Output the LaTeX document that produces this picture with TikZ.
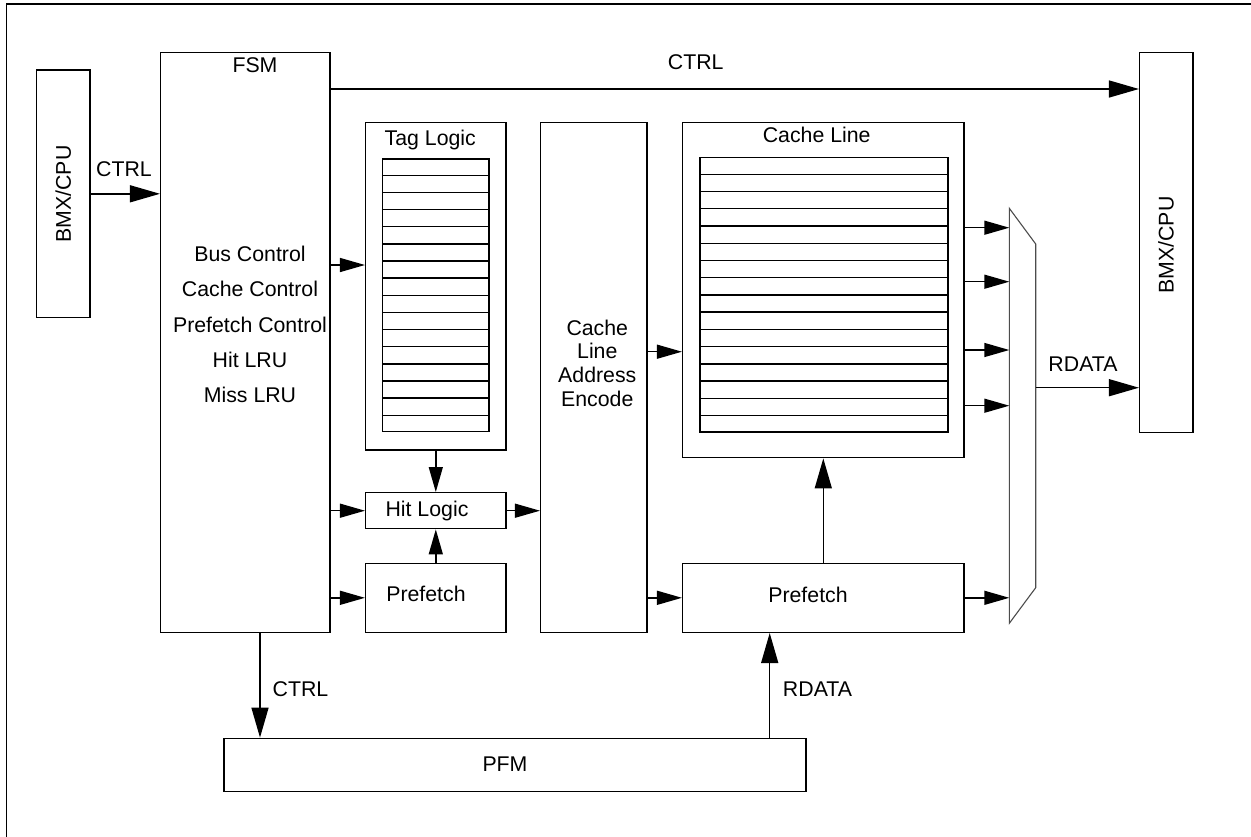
\documentclass[tikz,border=0pt]{standalone}
\usepackage{fontspec}
\setmainfont{Liberation Sans}
\usetikzlibrary{arrows.meta,calc}
\begin{document}
\begin{tikzpicture}[x=1pt,y=-1pt,
  box/.style={draw, line width=1.4pt, rectangle, inner sep=0pt},
  lbl/.style={font=\fontsize{21.3}{25}\selectfont, inner sep=0pt},
  bigarrow/.style={line width=1.4pt, -{Triangle[length=30pt,width=17pt]}},
  smlarrow/.style={line width=1.4pt, -{Triangle[length=25pt,width=14pt]}},
  rowline/.style={line width=1.4pt},
  muxline/.style={draw=black!70, line width=1.1pt, line join=miter},
]
\useasboundingbox (0,0) rectangle (1251,836);

% outer frame (only top and left edges visible)
\coordinate (frTR) at (1260,4);
\coordinate (frTL) at (6.7,4);
\coordinate (frBL) at (6.7,845);
\draw[line width=1.4pt] (frTR) -- (frTL) -- (frBL);

% blocks
\node[box, minimum width=53.3pt, minimum height=247.7pt] (bmxL) at (63.3,193.8) {};
\node[lbl, rotate=90] (bmxLt) at (63.3,194) {BMX/CPU};

\node[box, minimum width=169.3pt, minimum height=579.6pt] (fsm) at (245.3,342.5) {};
\node[lbl, anchor=base] (fsmt) at (255,72.7) {FSM};
\foreach \t [count=\i] in {Bus Control, Cache Control, Prefetch Control, Hit LRU, Miss LRU}
  \node[lbl, anchor=base] (fsml\i) at (250,{261.7+35.2*(\i-1)}) {\t};

\node[box, minimum width=140.3pt, minimum height=327.3pt] (tag) at (435.8,286.3) {};
\node[lbl, anchor=base] (tagt) at (430.3,145) {Tag Logic};
\node[box, minimum width=106.3pt, minimum height=272.7pt] (tagi) at (435.8,295.3) {};
\foreach \i in {1,...,15}
  \draw[rowline] ($(tagi.north west)!\i/16!(tagi.south west)$) -- ($(tagi.north east)!\i/16!(tagi.south east)$);

\node[box, minimum width=106.3pt, minimum height=509.6pt] (clae) at (593.8,377.5) {};
\foreach \t [count=\i] in {Cache, Line, Address, Encode}
  \node[lbl, anchor=base] (claet\i) at (597.3,{335+23.9*(\i-1)}) {\t};

\node[box, minimum width=281.3pt, minimum height=335pt] (cache) at (823.3,290.2) {};
\node[lbl, anchor=base] (cachet) at (816.7,142.7) {Cache Line};
\node[box, minimum width=248pt, minimum height=274.3pt] (cachei) at (824,294.9) {};
\foreach \i in {1,...,15}
  \draw[rowline] ($(cachei.north west)!\i/16!(cachei.south west)$) -- ($(cachei.north east)!\i/16!(cachei.south east)$);

\node[box, minimum width=140.3pt, minimum height=36pt] (hit) at (435.8,510.7) {};
\node[lbl, anchor=base] (hitt) at (427,516.7) {Hit Logic};

\node[box, minimum width=140.3pt, minimum height=69pt] (pfs) at (435.8,597.8) {};
\node[lbl, anchor=base] (pfst) at (426,601.7) {Prefetch};

\node[box, minimum width=281.3pt, minimum height=69pt] (pfb) at (823.3,597.8) {};
\node[lbl, anchor=base] (pfbt) at (808,602.7) {Prefetch};

\node[box, minimum width=582pt, minimum height=53pt] (pfm) at (515,764.8) {};
\node[lbl, anchor=base] (pfmt) at (505,771.7) {PFM};

\node[box, minimum width=53.3pt, minimum height=380pt] (bmxR) at (1166.3,242.7) {};
\node[lbl, rotate=90] (bmxRt) at (1166,245) {BMX/CPU};

% multiplexer
\coordinate (m1) at (1009.3,208.3);
\coordinate (m2) at (1035.7,244);
\coordinate (m3) at (1035.7,587.7);
\coordinate (m4) at (1009.3,623.3);
\draw[muxline] (m1) -- (m2) -- (m3) -- (m4) -- cycle;

% connectors
\draw[bigarrow] (bmxL.east) -- (fsm.west |- bmxL.east);
\node[lbl, anchor=base] (ctrl1) at (124,176.7) {CTRL};

\draw[bigarrow] (fsm.east |- 0,89) -- (bmxR.west |- 0,89);
\node[lbl, anchor=base] (ctrl2) at (695.7,69.3) {CTRL};

\draw[smlarrow] (fsm.east |- 0,265) -- (tag.west |- 0,265);
\draw[smlarrow] (fsm.east |- hit.west) -- (hit.west);
\draw[smlarrow] (fsm.east |- pfs.west) -- (pfs.west);
\draw[smlarrow] (tag.south) -- (hit.north);
\draw[smlarrow] (pfs.north) -- (hit.south);
\draw[smlarrow] (hit.east) -- (clae.west |- hit.east);
\draw[smlarrow] (clae.east |- 0,351.7) -- (cache.west |- 0,351.7);
\draw[smlarrow] (clae.east |- pfb.west) -- (pfb.west);
\draw[bigarrow] (pfb.north) -- (cache.south);

\draw[bigarrow] (fsm.south -| 260,0) -- (pfm.north -| 260,0);
\node[lbl, anchor=base] (ctrl3) at (300.5,696) {CTRL};

\draw[bigarrow] (pfm.north -| 769.7,0) -- (pfb.south -| 769.7,0);
\node[lbl, anchor=base] (rdata1) at (817.5,696) {RDATA};

\foreach \yy in {227.7, 281.7, 350, 405.7}
  \draw[smlarrow] (cache.east |- 0,\yy) -- (m1 |- 0,\yy);
\draw[smlarrow] (pfb.east) -- (m1 |- pfb.east);

\draw[bigarrow] (m2 |- 0,387.7) -- (bmxR.west |- 0,387.7);
\node[lbl, anchor=base] (rdata2) at (1083,371) {RDATA};
\end{tikzpicture}
\end{document}
